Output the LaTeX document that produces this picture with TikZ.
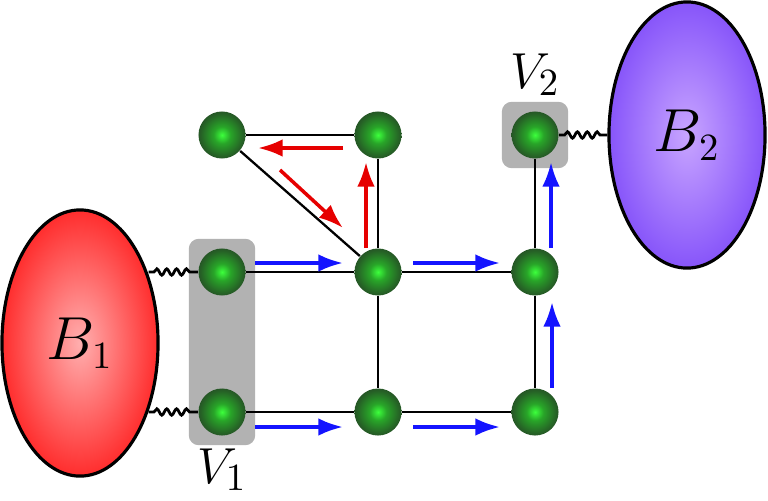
\documentclass[tikz,border=0pt]{standalone}
\usepackage{amsmath}
\usepackage{amsfonts}
\usepackage{amssymb}
\usepackage{xcolor}
\usepackage{tikz}
\usetikzlibrary{shapes.geometric,arrows.meta,decorations.pathmorphing,fit,backgrounds,calc}

\definecolor{ballin}{RGB}{60,255,60}
\definecolor{ballmid}{RGB}{40,165,40}
\definecolor{balldark}{RGB}{38,95,38}
\definecolor{ballout}{RGB}{35,58,35}
\definecolor{bodyred}{RGB}{255,45,45}
\definecolor{bodyredin}{RGB}{255,175,175}
\definecolor{bodyblue}{RGB}{135,85,250}
\definecolor{bodybluein}{RGB}{200,165,255}
\definecolor{flowblue}{RGB}{20,20,255}
\definecolor{cyclered}{RGB}{230,0,0}
\pgfdeclareradialshading{greenball}{\pgfpoint{0bp}{0bp}}{color(0bp)=(ballin); color(9bp)=(ballmid); color(23bp)=(balldark); color(33bp)=(ballout); color(100bp)=(ballout)}

\begin{document}
\begin{tikzpicture}[x=0.01cm, y=-0.01cm,
  site/.style={circle, minimum size=0.47cm, inner sep=0pt, shade, shading=greenball},
  bath/.style={ellipse, draw, line width=0.9pt, minimum width=1.56cm, minimum height=2.66cm, font=\fontsize{16}{19}\selectfont},
  leadbox/.style={fill=gray!60, rounded corners=0.1cm, inner sep=0.09cm},
  bond/.style={line width=0.65pt},
  coupling/.style={line width=0.8pt, decorate, decoration={snake, amplitude=0.9pt, segment length=2.8pt, pre length=1.5pt, post length=2pt}},
  flow/.style={flowblue, line width=1pt, -{Latex[length=7pt,width=5pt]}},
  redflow/.style={cyclered, line width=1pt, -{Latex[length=7pt,width=5pt]}},
  tag/.style={inner sep=0.5pt, font=\fontsize{15.5}{18}\selectfont}]
\useasboundingbox (0,0) rectangle (768,500);

% Nodes
\node[bath, inner color=bodyredin, outer color=bodyred] (b1) at (80,343) {$B_1$};
\node[bath, inner color=bodybluein, outer color=bodyblue] (b2) at (687,135) {$B_2$};
\node[site] (ul) at (222,135) {};
\node[site] (ur) at (378,135) {};
\node[site] (v2) at (535,135) {};
\node[site] (ml) at (222,272) {};
\node[site] (mm) at (378,272) {};
\node[site] (mr) at (535,272) {};
\node[site] (bl) at (222,412) {};
\node[site] (bm) at (378,412) {};
\node[site] (br) at (535,412) {};

% Leads
\begin{scope}[on background layer]
\node[leadbox, fit=(ml)(bl)] (lead1) {};
\node[leadbox, fit=(v2)] (lead2) {};
\end{scope}

% Bonds
\draw[bond] (ul) -- (ur);
\draw[bond] (ul) -- (mm);
\draw[bond] (ur) -- (mm);
\draw[bond] (ml) -- (mm);
\draw[bond] (mm) -- (mr);
\draw[bond] (mm) -- (bm);
\draw[bond] (bl) -- (bm);
\draw[bond] (bm) -- (br);
\draw[bond] (br) -- (mr);
\draw[bond] (mr) -- (v2);

% Couplings
\draw[coupling] (ml -| b1.45) -- (ml.west);
\draw[coupling] (bl -| b1.-45) -- (bl.west);
\draw[coupling] (v2.east) -- (v2 -| b2.west);

% Arrows
\draw[flow] ($(ml)+(33,-9)$) -- ($(mm)+(-35,-9)$);
\draw[flow] ($(mm)+(35,-9)$) -- ($(mr)+(-35,-9)$);
\draw[flow] ($(bl)+(33,15)$) -- ($(bm)+(-35,15)$);
\draw[flow] ($(bm)+(35,15)$) -- ($(br)+(-35,15)$);
\draw[flow] ($(br)+(17,-24)$) -- ($(mr)+(17,30)$);
\draw[flow] ($(mr)+(16,-24)$) -- ($(v2)+(16,27)$);
\draw[redflow] ($(ur)+(-35,13)$) -- ($(ul)+(36,13)$);
\draw[redflow] ($(ul)+(58,35)$) -- ($(mm)+(-35,-44)$);
\draw[redflow] ($(mm)+(-12,-24)$) -- ($(ur)+(-12,27)$);

% Labels
\node[tag, anchor=north] (v1label) at (lead1.south) {$V_1$};
\node[tag, anchor=south] (v2label) at ([yshift=0.03cm]lead2.north) {$V_2$};
\end{tikzpicture}
\end{document}
